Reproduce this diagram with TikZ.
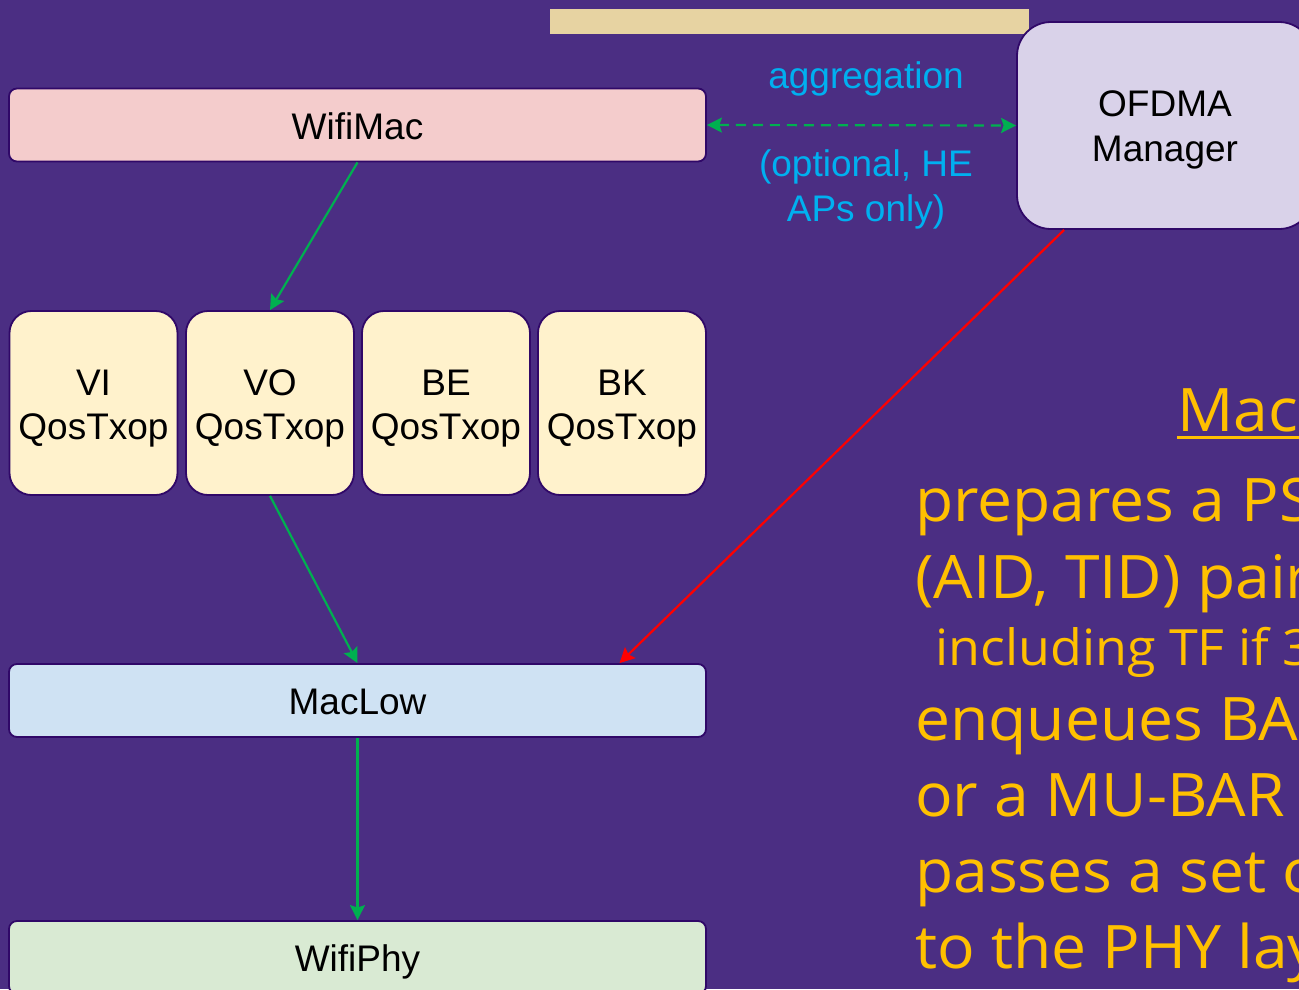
\documentclass[tikz,border=0pt]{standalone}
\usepackage{fontspec}
\setmainfont{Liberation Sans}
\newfontfamily\notefont[FakeStretch=1.04]{Open Sans}
\usetikzlibrary{arrows.meta}

\definecolor{bgpurple}{HTML}{4B2E83}
\definecolor{edgepurple}{HTML}{300868}
\definecolor{macpink}{HTML}{F4CCCC}
\definecolor{qosyellow}{HTML}{FFF2CC}
\definecolor{lowblue}{HTML}{CFE2F3}
\definecolor{phygreen}{HTML}{D9EAD3}
\definecolor{mgrlilac}{HTML}{D9D2E9}
\definecolor{bartan}{HTML}{E7D3A2}
\definecolor{flowgreen}{HTML}{00B050}
\definecolor{labelcyan}{HTML}{00B0F0}
\definecolor{notegold}{HTML}{FFC000}

\tikzset{
  tip/.tip={Stealth[length=15pt, width=15pt, inset=2.5pt]},
  layerbox/.style={draw=edgepurple, line width=1.8pt, rounded corners=8pt,
    minimum width=697pt, minimum height=73pt, inner sep=0pt,
    text height=28pt, text depth=0pt,
    font=\fontsize{37}{44}\selectfont, text=black, align=center},
  queuebox/.style={draw=edgepurple, line width=1.8pt, rounded corners=22pt,
    fill=qosyellow, minimum width=168pt, minimum height=184pt, inner sep=0pt,
    text height=72pt, text depth=0pt,
    font=\fontsize{37}{44}\selectfont, text=black, align=center},
  mgrbox/.style={draw=edgepurple, line width=1.8pt, rounded corners=34pt,
    fill=mgrlilac, minimum width=296pt, minimum height=207pt, inner sep=0pt,
    text height=71pt, text depth=0pt,
    font=\fontsize{37}{45}\selectfont, text=black, align=center},
  flow/.style={draw=flowgreen, line width=2.2pt, -tip},
  ctrl/.style={draw=red, line width=2.2pt, -tip},
  cyanlabel/.style={text=labelcyan, font=\fontsize{37}{45}\selectfont,
    align=center, inner sep=0pt},
  bignote/.style={text=notegold, font=\notefont\fontsize{60}{72}\selectfont,
    anchor=base west, inner sep=0pt},
  smallnote/.style={text=notegold, font=\notefont\fontsize{50}{60}\selectfont,
    anchor=base west, inner sep=0pt},
}

\begin{document}
\begin{tikzpicture}[x=1pt, y=-1pt]
  % canvas
  \useasboundingbox (0,0) rectangle (1299,989);
  \clip (0,0) rectangle (1299,989);
  \fill[bgpurple] (0,0) rectangle (1299,989);

  % title strip along the top
  \fill[bartan] (550,9) rectangle (1029,34);

  % MAC stack
  \node[layerbox, fill=macpink] (mac) at (357.5,125) {WifiMac};
  \node[queuebox] (vi) at (93.5,403)  {VI\\QosTxop};
  \node[queuebox] (vo) at (270,403)   {VO\\QosTxop};
  \node[queuebox] (be) at (446,403)   {BE\\QosTxop};
  \node[queuebox] (bk) at (622,403)   {BK\\QosTxop};
  \node[layerbox, fill=lowblue] (low) at (357.5,700.5) {MacLow};
  \node[layerbox, fill=phygreen] (phy) at (357.5,957.5) {WifiPhy};

  % scheduler
  \node[mgrbox] (mgr) at (1165,125.5) {OFDMA\\Manager};

  % labels of the aggregation link
  \node[cyanlabel] (agg) at (866,79) {aggregation};
  \node[cyanlabel] (opt) at (866,189.5) {(optional, HE\\APs only)};

  % connectors
  \draw[flow] (mac.south) -- (vo.north);
  \draw[flow] (vo.south) -- (low.north);
  \draw[flow] (low.south) -- (phy.north);
  \draw[flow, dash pattern=on 10pt off 7pt, tip-tip] (mac.east) -- (mgr.west);
  \draw[ctrl] ([xshift=48pt]mgr.south west) -- ([xshift=262pt]low.north);

  % notes on the right
  \node[bignote] (head) at (1177,431) {Mac};
  \draw[notegold, line width=3pt] ([yshift=-6pt]head.base west) -- ([xshift=20pt, yshift=-6pt]head.base east);
  \node[bignote] (n1) at (915,521) {prepares a PS};
  \node[bignote] (n2) at (915,598) {(AID, TID) pair};
  \node[smallnote] (n3) at (935,665) {including TF if 3};
  \node[bignote] (n4) at (915,740) {enqueues BAR};
  \node[bignote] (n5) at (915,816) {or a MU-BAR};
  \node[bignote] (n6) at (915,892) {passes a set o};
  \node[bignote] (n7) at (915,968) {to the PHY lay};
\end{tikzpicture}
\end{document}
